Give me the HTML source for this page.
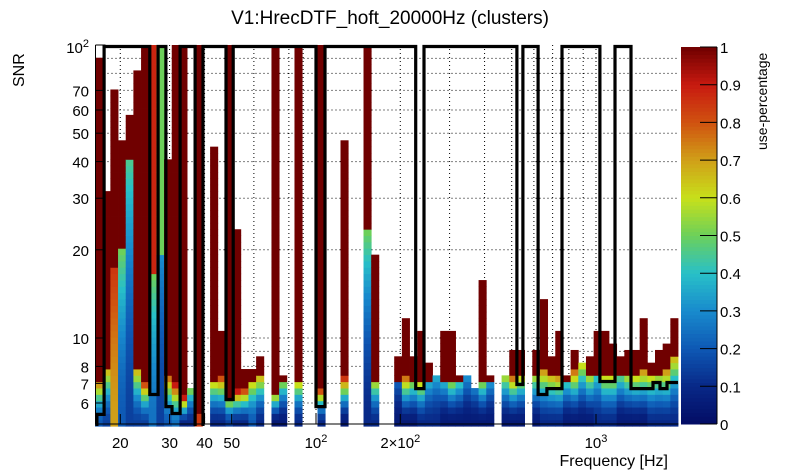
<!DOCTYPE html>
<html><head><meta charset="utf-8"><style>
html,body{margin:0;padding:0;background:#fff;}
svg{display:block;font-family:"Liberation Sans",sans-serif;}
</style></head><body>
<svg id="chart" width="805" height="472" xmlns="http://www.w3.org/2000/svg">
<rect x="0" y="0" width="805" height="472" fill="#fff"/>
<text x="390" y="24" font-size="19" text-anchor="middle">V1:HrecDTF_hoft_20000Hz (clusters)</text>
<g id="grid"></g>
<g id="cells"></g>
<g id="contour"></g>
<g id="axes"></g>
<g id="cbar"></g>
<text transform="translate(24,87) rotate(-90)" font-size="16">SNR</text>
<text x="668" y="466" font-size="16" text-anchor="end">Frequency [Hz]</text>
<text transform="translate(767,150) rotate(-90)" font-size="14">use-percentage</text>
</svg>
<script>
// ---- data ----
const fMin = 16.25, fMax = 1963, nBins = 76;
const snrMin = 5, snrMax = 100, nRows = 60;
const colTop   = [90,31.7,69.6,47,57,81,100,100,100,40.6,100,100,6.8,100,0,45,10.6,100,23.6,7.9,7.9,8.7,0,100,7.6,0,100,0,0,100,0,0,47,0,0,100,19.4,0,0,8.7,11.8,8.7,10.6,8.3,7.6,10.3,10.3,7.6,7.6,6.8,15.7,7.6,0,7.6,9.2,9.2,0,9.2,13.7,8.7,10.6,7.6,9.2,8.3,8.7,10.6,10.3,9.7,8.7,9.2,9.2,11.8,8.3,9.2,9.7,11.8];
const colUpper = [1,1,1,1,1,1,1,0.88,0.5,1,1,1,0.5,1,0,1,1,1,1,1,1,1,0,1,1,0,1,0,0,1,0,0,1,0,0,1,1,0,0,1,1,1,1,1,0.5,1,1,1,0.5,0.25,1,1,0,1,1,1,0,1,1,1,1,1,1,0.7,1,1,1,1,1,1,1,1,1,1,1,1];
const colMidTop= [7,7.8,17.5,20,40,8,7,16.6,19.5,7.5,7,6.5,6.8,5.5,0,7,7.5,6.2,6.8,6.8,7,7.5,0,6.5,7,0,7,0,0,6.8,0,0,7.3,0,0,23.6,7.2,0,0,7,7.5,7.2,7.2,7.2,7.6,7,7.2,7.2,7.6,6.8,7.2,7,0,7.3,7.3,7.3,0,7.5,7.8,7.5,7.5,7,8,8.3,7.5,7.5,7.5,7.5,7.3,7.5,7.5,8,7.5,7.5,8,8.5];
const colMid   = [0.7,0.65,0.85,0.5,0.45,0.65,0.8,0.5,0.3,0.75,0.9,0.9,0.5,0.85,0,0.6,0.8,0.5,0.9,0.8,0.6,0.65,0,0.55,0.5,0,0.6,0,0,0.8,0,0,0.85,0,0,0.5,0.55,0,0,0.2,0.75,0.5,0.6,0.35,0.35,0.35,0.5,0.4,0.3,0.25,0.5,0.3,0,0.55,0.75,0.6,0,0.55,0.7,0.65,0.7,0.4,0.75,0.6,0.55,0.4,0.6,0.6,0.45,0.55,0.6,0.7,0.6,0.55,0.7,0.65];
const colBase  = [0.2,0.15,0.7,0.2,0.15,0.15,0.15,0.25,0.15,0.2,0.25,0.1,0.1,0.85,0,0.1,0.1,0.15,0.1,0.1,0.2,0.1,0,0.05,0.05,0,0.1,0,0,0.1,0,0,0.05,0,0,0.1,0.1,0,0,0.05,0.05,0.05,0.1,0.1,0.1,0.05,0.05,0.05,0.05,0.05,0.05,0.05,0,0.05,0.05,0.05,0,0.05,0.1,0.1,0.1,0.05,0.05,0.05,0.05,0.1,0.1,0.1,0.05,0.05,0.05,0.05,0.1,0.1,0.1,0.1];
// contour (frequency Hz, SNR)
const contourF = [16.5,16.5,17.5,17.5,25.5,25.5,27.3,27.3,29.1,29.1,30.6,30.6,32.7,32.7,37,37,39.5,39.5,47.7,47.7,50.6,50.6,100,100,107.7,107.7,227,227,243,243,522,522,548,548,621,621,668,668,756,756,1033,1033,1169,1169,1334,1334,1598,1598,1693,1693,1793,1793,1963];
const contourS = [4.5,5.55,5.55,100,100,6.49,6.49,100,100,5.9,5.9,5.59,5.59,100,100,4.5,4.5,100,100,6.24,6.24,100,100,5.9,5.9,100,100,6.8,6.8,100,100,7.02,7.02,100,100,6.49,6.49,6.8,6.8,100,100,7.19,7.19,100,100,6.8,6.8,7.13,7.13,6.8,6.8,7.13,7.13];
const yTickVals = [100,70,60,50,40,30,20,10,8,7,6];
const yTickLabels = ["10²","70","60","50","40","30","20","10","8","7","6"];
const yGridVals = [6,7,8,9,10,20,30,40,50,60,70,80,90];
const xTickVals = [20,30,40,50,100,200,1000];
const xTickLabels = ["20","30","40","50","10²","2×10²","10³"];
const xGridVals = [20,30,40,50,60,70,80,90,100,200,300,400,500,600,700,800,900,1000];
const cbarTicks = [0,0.1,0.2,0.3,0.4,0.5,0.6,0.7,0.8,0.9,1];
// ---- scales ----
const PX0=95.5, PX1=677.5, PY0=45, PY1=424;
function X(f){return 316+280*Math.log10(f/100);}
function Y(s){return PY0+293*(2-Math.log10(s));}
const stops=[[0,[3,12,100]],[0.1,[8,40,135]],[0.2,[14,88,180]],[0.3,[24,138,205]],[0.4,[40,192,200]],[0.5,[108,208,90]],[0.6,[200,224,26]],[0.7,[208,160,24]],[0.8,[208,82,16]],[0.9,[200,26,16]],[1,[112,0,0]]];
function col(v){v=Math.max(0,Math.min(1,v));for(let i=1;i<stops.length;i++){if(v<=stops[i][0]){const a=stops[i-1],b=stops[i];const t=(v-a[0])/(b[0]-a[0]);const c=a[1].map((x,k)=>Math.round(x+(b[1][k]-x)*t));return `rgb(${c[0]},${c[1]},${c[2]})`;}}return 'rgb(112,0,0)';}
const NS="http://www.w3.org/2000/svg";
function mk(tag,attrs,parent){const e=document.createElementNS(NS,tag);for(const k in attrs)e.setAttribute(k,attrs[k]);parent.appendChild(e);return e;}
// ---- grid ----
const grid=document.getElementById('grid');
yGridVals.forEach(s=>{const l=mk('line',{x1:PX0,x2:PX1,y1:Y(s),y2:Y(s),stroke:'#000','stroke-width':1,'stroke-dasharray':'1,3'},grid);

});
xGridVals.forEach(f=>{const l=mk('line',{x1:X(f),x2:X(f),y1:PY0,y2:PY1,stroke:'#000','stroke-width':1,'stroke-dasharray':'1,3'},grid);

});
// ---- cells ----
const cells=document.getElementById('cells');
const lr=Math.log(fMax/fMin), sr=Math.log(snrMax/snrMin);
function rowCenter(j){return snrMin*Math.exp(sr*(j+0.5)/nRows);}
for(let i=0;i<nBins;i++){
  if(!colTop[i])continue;
  const f0=fMin*Math.exp(lr*i/nBins), f1=fMin*Math.exp(lr*(i+1)/nBins);
  let m=0; while(m<nRows && rowCenter(m)<colMidTop[i]) m++;
  for(let j=0;j<nRows;j++){
    const s0=snrMin*Math.exp(sr*j/nRows), s1=snrMin*Math.exp(sr*(j+1)/nRows);
    if(s1>colTop[i]*1.03)break;
    let v;
    if(j>=m) v=colUpper[i];
    else v=colBase[i]+(colMid[i]-colBase[i])*Math.pow(m>1? j/(m-1):1,1.7);
    const r=mk('rect',{x:X(f0),y:Y(s1),width:X(f1)-X(f0)+0.4,height:Y(s0)-Y(s1)+0.4,fill:col(v)},cells);
    
    
  }
}
// ---- contour ----
const cg=document.getElementById('contour');
const clip=mk('clipPath',{id:'pc'},cg);mk('rect',{x:90,y:40,width:590,height:386},clip);
let d='';contourF.forEach((f,k)=>{d+=(k?'L':'M')+X(f).toFixed(1)+','+(Y(contourS[k])+1.5).toFixed(1);});
const cp=mk('path',{d:d,fill:'none',stroke:'#000','stroke-width':3.2,'clip-path':'url(#pc)'},cg);


// ---- axes ----
const ax=document.getElementById('axes');
const fr=mk('path',{d:`M${PX0},${PY0}V${PY1}H${PX1+1}`,fill:'none',stroke:'#000','stroke-width':1},ax);


yTickVals.forEach((s,k)=>{
  const t=mk('line',{x1:PX0,x2:PX0+10,y1:Y(s),y2:Y(s),stroke:'#000'},ax);
  
  
  const lab=mk('text',{x:89,y:Y(s)+6,'font-size':15,'text-anchor':'end'},ax);
  if(s===100){lab.innerHTML='10<tspan dy="-6" font-size="11">2</tspan>';lab.setAttribute('y',Y(s)+8);}
  else lab.textContent=yTickLabels[k];
  
  
});
xTickVals.forEach((f,k)=>{
  const t=mk('line',{x1:X(f),x2:X(f),y1:PY1,y2:PY1-10,stroke:'#000'},ax);
  
  
  const lab=mk('text',{x:X(f),y:448,'font-size':15,'text-anchor':'middle'},ax);
  const s=xTickLabels[k];
  if(s.endsWith('²')){lab.innerHTML=s.slice(0,-1).replace('×','&#215;')+'<tspan dy="-6" font-size="11">2</tspan>';}
  else if(s.endsWith('³')){lab.innerHTML=s.slice(0,-1)+'<tspan dy="-6" font-size="11">3</tspan>';}
  else lab.textContent=s;
  
  
});
// ---- colorbar ----
const cb=document.getElementById('cbar');
const CB0=47, CB1=424, CX=681, CW=36;
for(let k=0;k<100;k++){
  const r=mk('rect',{x:CX,y:CB1-(k+1)*(CB1-CB0)/100,width:CW,height:(CB1-CB0)/100+0.5,fill:col((k+0.5)/100)},cb);
  
  
}
cbarTicks.forEach(v=>{
  const y=CB1-v*(CB1-CB0);
  const t=mk('line',{x1:CX+CW-17,x2:CX+CW,y1:y,y2:y,stroke:'#000'},cb);
  
  
  const lab=mk('text',{x:CX+CW+3,y:y+6,'font-size':15},cb);
  lab.textContent=String(v);
  
  
});
const cbl=mk('line',{x1:CX+CW,x2:CX+CW,y1:CB0,y2:CB1,stroke:'#000'},cb);


</script>
</body></html>
